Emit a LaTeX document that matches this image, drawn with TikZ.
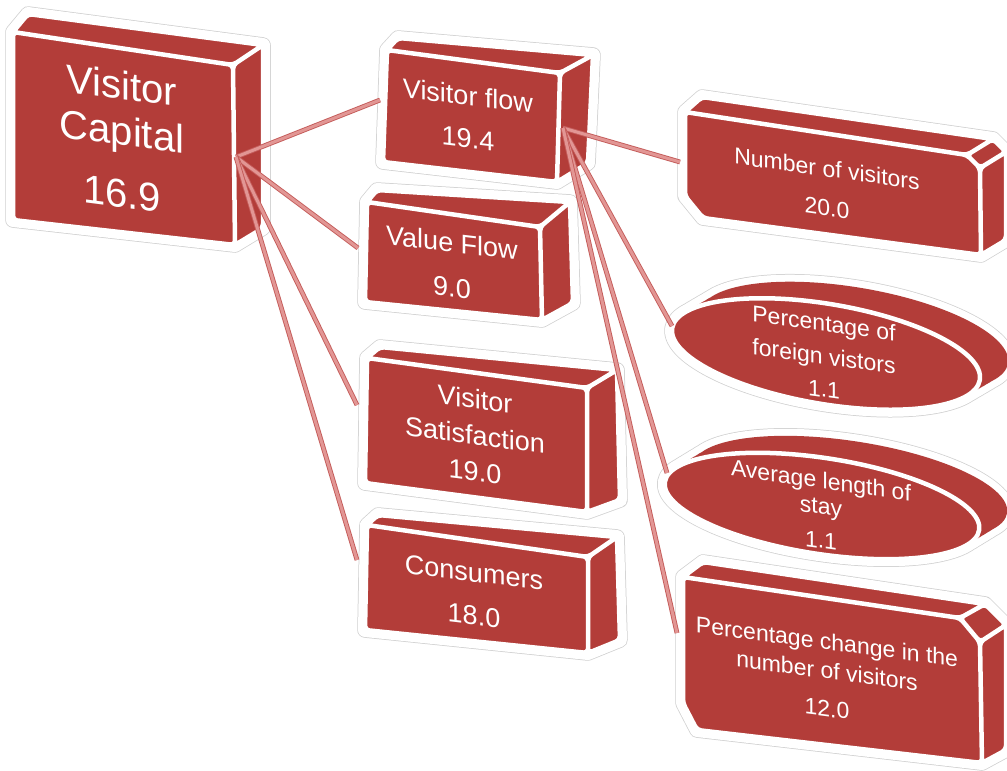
\documentclass[tikz,border=0pt]{standalone}
\usepackage{fontspec}
\setmainfont{Liberation Sans}
\usepackage{xcolor}
\definecolor{vcred}{RGB}{179,61,57}
\definecolor{vclink}{RGB}{226,150,148}
\definecolor{vclinkedge}{RGB}{196,92,90}
\definecolor{vchalo}{RGB}{208,208,208}
\usetikzlibrary{calc}

% one solid block: halo round all faces, then the faces themselves
\newcommand{\block}[1]{%
  \draw[halo edge] #1;
  \draw[halo body] #1;
  \draw[face] #1;
}

% tilted disc: front ellipse swept back by a shift
\newcommand{\disc}[4]{%
  \begin{scope}[shift={#1}, rotate=#2]
    \draw[halo edge] \foreach \t in {0,0.2,...,1} {($\t*(#4)$) ellipse (#3)};
    \draw[halo body] \foreach \t in {0,0.2,...,1} {($\t*(#4)$) ellipse (#3)};
    \fill[vcred] \foreach \t in {0,0.2,...,1} {($\t*(#4)$) ellipse (#3)};
    \draw[face] (0,0) ellipse (#3);
  \end{scope}
}

\begin{document}
\begin{tikzpicture}[x=1pt, y=1pt,
    halo edge/.style={draw=vchalo, line width=15.5pt, line join=round},
    halo body/.style={draw=white, fill=white, line width=14pt, line join=round},
    face/.style={draw=white, fill=vcred, line width=4.5pt, line join=round, rounded corners=4pt},
    link/.style={draw=vclinkedge, line width=0.9pt, double=vclink, double distance=3pt},
    big text/.style={text=white, align=center, inner sep=0pt, font=\fontsize{40}{46}\selectfont},
    mid text/.style={text=white, align=center, inner sep=0pt, font=\fontsize{27}{33}\selectfont},
    small text/.style={text=white, align=center, inner sep=0pt, font=\fontsize{23}{28}\selectfont}]

\clip (0,0) rectangle (1007,-771);

% === Left column: Visitor Capital ===
\block{(13,-32) -- (28,-14) -- (263,-45) -- (233,-65) -- cycle
       (233,-65) -- (263,-45) -- (263,-228) -- (235,-245) -- cycle
       (13,-32) -- (233,-65) -- (235,-245) -- (13,-220) -- cycle}
\node[big text, yslant=-0.13] (vc) at (122,-139) {Visitor\\Capital\\[16pt]16.9};

% === Middle column ===
\block{(387,-50) -- (398,-38) -- (593,-55) -- (560,-73) -- cycle
       (560,-73) -- (593,-55) -- (588,-163) -- (557,-182) -- cycle
       (387,-50) -- (560,-73) -- (557,-182) -- (383,-162) -- cycle}
\node[mid text, yslant=-0.12] (vf) at (468,-117) {Visitor flow\\[10pt]19.4};

\block{(367,-202) -- (377,-190) -- (570,-202) -- (540,-227) -- cycle
       (540,-227) -- (570,-202) -- (573,-303) -- (542,-320) -- cycle
       (367,-202) -- (540,-227) -- (542,-320) -- (365,-302) -- cycle}
\node[mid text, yslant=-0.12] (vaf) at (452,-265) {Value Flow\\[12pt]9.0};

\block{(367,-358) -- (380,-347) -- (617,-370) -- (587,-388) -- cycle
       (587,-388) -- (617,-370) -- (620,-500) -- (587,-512) -- cycle
       (367,-358) -- (587,-388) -- (587,-512) -- (365,-483) -- cycle}
\node[mid text, yslant=-0.13] (vs) at (475,-435) {Visitor\\[3pt]Satisfaction\\[3pt]19.0};

\block{(367,-525) -- (378,-515) -- (617,-537) -- (588,-557) -- cycle
       (588,-557) -- (617,-537) -- (620,-640) -- (588,-653) -- cycle
       (367,-525) -- (588,-557) -- (588,-653) -- (365,-630) -- cycle}
\node[mid text, yslant=-0.12] (co) at (474,-594) {Consumers\\[10pt]18.0};

% === Right column ===
\block{(685,-112) -- (702,-97) -- (993,-139) -- (967,-155) -- cycle
       (967,-155) -- (993,-139) -- (1006,-152) -- (980,-168) -- cycle
       (980,-168) -- (1006,-152) -- (1006,-240) -- (981,-255) -- cycle
       (685,-112) -- (967,-155) -- (980,-168) -- (981,-255) -- (703,-218) -- (685,-196) -- cycle}
\node[small text, yslant=-0.14] (nv) at (827,-188) {Number of visitors\\[11pt]20.0};

\disc{(826,-354)}{-9.6}{156 and 50}{25,21}
\node[small text, yslant=-0.14] (pf) at (824,-356) {Percentage of\\[5pt]foreign vistors\\[5pt]1.1};

\disc{(822,-506)}{-8.7}{159 and 48}{25,21}
\node[small text, yslant=-0.14] (al) at (821,-510) {Average length of\\[-2pt]stay\\[6pt]1.1};

\block{(683,-577) -- (703,-562) -- (985,-604) -- (960,-618) -- cycle
       (960,-618) -- (985,-604) -- (1006,-625) -- (980,-642) -- cycle
       (980,-642) -- (1006,-625) -- (1006,-750) -- (982,-763) -- cycle
       (683,-577) -- (960,-618) -- (980,-642) -- (982,-763) -- (697,-730) -- (683,-703) -- cycle}
\node[small text, yslant=-0.13] (pc) at (827,-675) {Percentage change in the\\[1pt]number of visitors\\[10pt]12.0};

% === Connectors ===
\coordinate (vc-out) at (236,-157);
\coordinate (vf-in) at (380,-100);
\coordinate (vaf-in) at (358,-248);
\coordinate (vs-in) at (357,-405);
\coordinate (co-in) at (357,-560);
\coordinate (vf-out) at (563,-128);
\coordinate (nv-in) at (680,-162);
\coordinate (pf-in) at (672,-326);
\coordinate (al-in) at (667,-473);
\coordinate (pc-in) at (677,-633);

\foreach \to in {vf-in, vaf-in, vs-in, co-in}
  \draw[link] (vc-out) -- (\to);
\foreach \to in {nv-in, pf-in, al-in, pc-in}
  \draw[link] (vf-out) -- (\to);

\end{tikzpicture}
\end{document}
